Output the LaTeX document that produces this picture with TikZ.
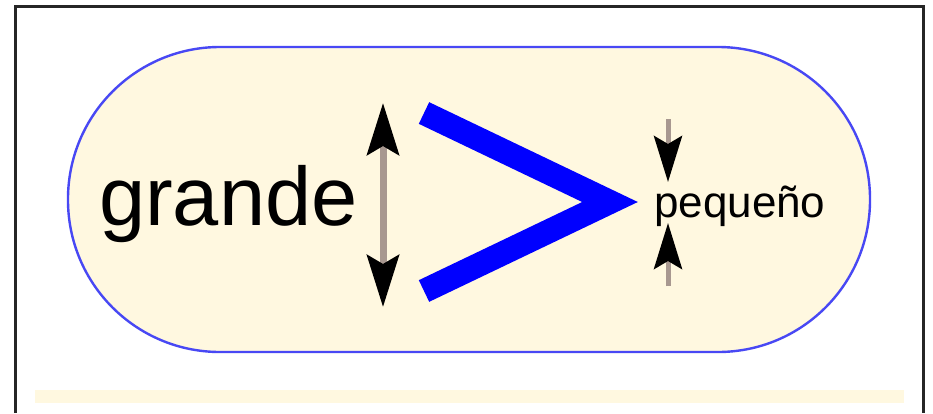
\documentclass[tikz,border=0pt]{standalone}
\usepackage{fontspec}
\setmainfont{Liberation Sans}
\usetikzlibrary{arrows.meta}
\definecolor{cream}{HTML}{FFF8E0}
\definecolor{rim}{HTML}{4848F4}
\definecolor{shaft}{HTML}{A89890}
\tikzset{
  bigtip/.tip={Stealth[length=52pt, width=32pt, inset=9pt, color=black]},
  smalltip/.tip={Stealth[length=46pt, width=28pt, inset=8pt, color=black]}}

\begin{document}
\begin{tikzpicture}[x=1pt, y=-1pt,
  word/.style={inner sep=0pt, text=black},
  span/.style={draw=shaft, line width=7pt},
  chev/.style={draw=blue, line width=24pt, miter limit=10}]
\useasboundingbox (0,0) rectangle (933,413);
% frame and background
\fill[white] (0,0) rectangle (933,413);
\draw[line width=3pt, black!85] (15,413) |- (923,6) -- (923,413);
\draw[rim, fill=cream, line width=2.4pt, rounded corners=152pt] (68,47) rectangle (870,352);
\fill[cream] (35,390) rectangle (904,403);
% words
\node[word, anchor=base west, font=\fontsize{83}{83}\selectfont] (big) at (99,225) {grande};
\node[word, anchor=base west, font=\fontsize{44}{44}\selectfont] (small) at (654,217) {pequeño};
% sizes
\coordinate (bt) at (383,103);
\coordinate (bb) at (383,307);
\draw[span, bigtip-bigtip] (bt) -- (bb);
\coordinate (st0) at (668,119);
\coordinate (st) at (668,182);
\coordinate (sb) at (668,223);
\coordinate (sb0) at (668,286);
\draw[span, line width=5pt, -smalltip] (st0) -- (st);
\draw[span, line width=5pt, -smalltip] (sb0) -- (sb);
% the sign
\draw[chev] (424,113) -- (610,202) -- (424,291);
\end{tikzpicture}
\end{document}
